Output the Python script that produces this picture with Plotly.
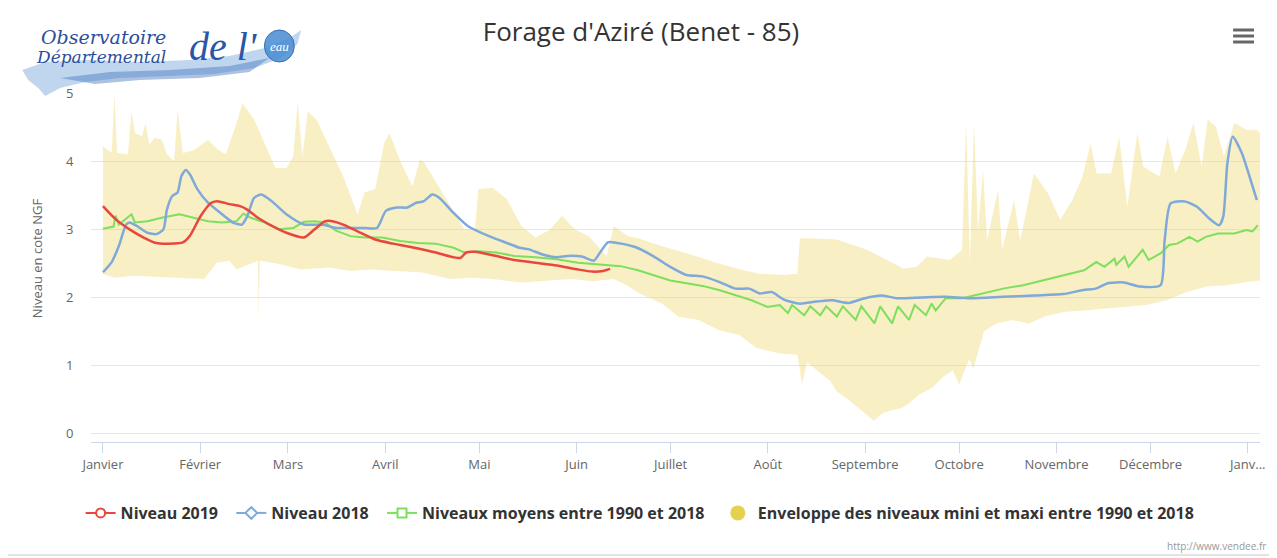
import plotly.graph_objects as go

# ---------------- data (x = day of year, 0 = 1 Jan) ----------------
month_labels = ["Janvier", "Février", "Mars", "Avril", "Mai", "Juin", "Juillet",
                "Août", "Septembre", "Octobre", "Novembre", "Décembre", "Janv..."]
month_days = [0, 31, 59, 90, 120, 151, 181, 212, 243, 273, 304, 334, 365]

red_days = [0, 4, 8.5, 13, 17, 21, 25.5, 27.8, 31.2, 34.6, 36.9, 40.3, 43.7, 46, 49.4,
            53.9, 58.5, 64.1, 67.5, 70.9, 73.2, 76.6, 81.2, 86.8, 92.5, 99.3, 106.1,
            111.8, 114, 115.8, 118.6, 124.3, 131.1, 137.9, 144.7, 151.5, 156, 159.5, 161.7]
red_vals = [3.34, 3.15, 3.0, 2.88, 2.80, 2.79, 2.81, 2.91, 3.2, 3.39, 3.41, 3.37, 3.34, 3.29, 3.17,
            3.05, 2.95, 2.88, 3.0, 3.12, 3.12, 3.07, 2.97, 2.85, 2.79, 2.73, 2.66,
            2.59, 2.58, 2.66, 2.67, 2.62, 2.55, 2.51, 2.47, 2.41, 2.38, 2.39, 2.42]

blue_days = [0, 2.8, 5.1, 7.4, 8.5, 10.8, 14.2, 17, 19.3, 20.4, 22.1, 23.8, 25, 26.4, 27.8,
             30.1, 33.5, 38, 41.4, 44.3, 46, 48.2, 50.5, 53.9, 58.5, 64.1, 69.8, 74.3, 78.9,
             83.4, 87.4, 90.2, 93.6, 97, 99.9, 102.2, 105, 107.3, 111.8, 116.3, 123.1, 128.8,
             132.8, 135.6, 140.2, 144.7, 148.1, 152.7, 156.5, 158.5, 161, 164, 169.7,
             175.7, 180.9, 186.1, 191.2, 196.4, 201.6, 206.1, 209.3, 213.2, 217.1, 222.2,
             227.4, 232.5, 237.7, 242.9, 248.1, 253.2, 261, 268.7, 276.5, 286.8, 297.1,
             306.2, 312.6, 316.5, 320.4, 325.5, 330.7, 337.2, 338.5, 340.4, 344.9, 348.8,
             352.7, 355.9, 357.2, 358.5, 360.2, 363.1, 365.6, 367.9]
blue_vals = [2.37, 2.52, 2.76, 3.07, 3.10, 3.05, 2.95, 2.93, 3.0, 3.29, 3.49, 3.54, 3.78, 3.87, 3.80,
             3.59, 3.39, 3.22, 3.10, 3.07, 3.19, 3.46, 3.51, 3.41, 3.22, 3.07, 3.07, 3.02, 3.02,
             3.02, 3.02, 3.27, 3.32, 3.32, 3.39, 3.41, 3.51, 3.46, 3.24, 3.05, 2.90, 2.80,
             2.73, 2.71, 2.63, 2.59, 2.61, 2.60, 2.54, 2.66, 2.81, 2.80, 2.74,
             2.60, 2.45, 2.33, 2.31, 2.23, 2.13, 2.13, 2.06, 2.08, 1.97, 1.91,
             1.94, 1.96, 1.92, 1.99, 2.03, 1.99, 2.0, 2.01, 1.99, 2.01, 2.03,
             2.05, 2.11, 2.13, 2.21, 2.22, 2.16, 2.18, 2.84, 3.38, 3.41, 3.33,
             3.16, 3.06, 3.19, 3.97, 4.36, 4.12, 3.77, 3.43]

green_days = [0, 3.4, 4, 5.1, 9.1, 10.2, 14.2, 18.7, 24.4, 28.9, 33.5, 38, 42.6, 44.8, 47.1,
              51.6, 56.2, 60.7, 64.1, 67.5, 70.9, 74.3, 78.9, 83.4, 89.1, 94.8, 100.4, 106.1,
              111.8, 115.2, 119.7, 125.4, 131.1, 137.9, 144.7, 151.5, 158.3, 165.1, 170.6,
              175.7, 180.9, 186.1, 191.2, 196.4, 201.6, 206.8, 211.9, 215.8, 218.4, 219.7,
              223.6, 225.5, 228.7, 230.6, 234, 235.9, 240, 241.8, 246, 247.8, 251.6, 253.5,
              257, 258.8, 262.4, 264.2, 265.5, 268.7, 274, 280.5, 287, 293.4, 299.9, 306.4,
              312.8, 316.7, 319.3, 322.5, 323.1, 325.7, 327, 331.5, 333.4, 337.3, 339.9,
              342.5, 346.4, 349, 351.6, 355.5, 360.7, 364.6, 366.5, 368.2]
green_vals = [3.01, 3.04, 3.2, 3.07, 3.22, 3.1, 3.12, 3.17, 3.22, 3.17, 3.12, 3.10, 3.12, 3.23, 3.17,
              3.10, 3.0, 3.02, 3.11, 3.12, 3.10, 2.98, 2.90, 2.88, 2.88, 2.83, 2.80, 2.79,
              2.73, 2.66, 2.68, 2.66, 2.61, 2.59, 2.56, 2.51, 2.49, 2.46, 2.40,
              2.33, 2.25, 2.21, 2.17, 2.11, 2.03, 1.96, 1.86, 1.89, 1.77, 1.89,
              1.74, 1.87, 1.74, 1.87, 1.72, 1.87, 1.67, 1.87, 1.62, 1.87, 1.62, 1.87,
              1.67, 1.89, 1.74, 1.91, 1.81, 1.99, 1.99, 2.06, 2.13, 2.18, 2.25, 2.33,
              2.40, 2.52, 2.45, 2.57, 2.48, 2.60, 2.45, 2.70, 2.55, 2.65, 2.77,
              2.79, 2.89, 2.82, 2.89, 2.94, 2.94, 2.99, 2.97, 3.06]

env_up_days = [0, 2.8, 3.7, 4.5, 8, 9.1, 10.2, 12.5, 13.6, 14.8, 16.5, 18.7, 20.4, 22.7, 23.8,
               25.5, 28.9, 33.5, 36.9, 39.2, 42.6, 44.5, 48.2, 51.6, 55, 58.5, 60.7, 62.1,
               63.6, 65.3, 68.1, 72.1, 76.6, 81.2, 83.4, 86.8, 89.7, 91.4, 94.8, 98.7, 101,
               102.2, 105, 109.5, 115.2, 118.6, 119.7, 124.3, 128.8, 133.4, 137.9, 142.4,
               146.4, 150.4, 154.9, 160.6, 162.9, 167.4, 170.6, 178.3, 186.1, 196.4, 204.2,
               209.3, 217.1, 221.4, 222.2, 225.3, 234, 243.6, 250, 255.4, 259.5, 262.7,
               270, 273.9, 275.2, 276.4, 277.7, 279, 280.6, 281.9, 285.4, 286.7, 290.5,
               292.4, 293.6, 296.8, 301.3, 305.2, 309.1, 312.3, 314.9, 316.8, 321.4, 324,
               326.6, 329.8, 331.7, 336.8, 339.4, 342, 345.1, 347.7, 350.3, 352.2, 354.8,
               357.4, 360.7, 364.6, 367.8, 368.9]
env_up_vals = [4.22, 4.12, 5.0, 4.12, 4.1, 4.73, 4.41, 4.37, 4.56, 4.24, 4.34, 4.32, 4.10, 4.0, 4.75,
               4.12, 4.16, 4.31, 4.16, 4.1, 4.56, 4.85, 4.61, 4.26, 3.9, 3.9, 4.07, 4.88,
               4.07, 4.73, 4.61, 4.22, 3.78, 3.22, 3.54, 3.59, 4.27, 4.41, 4.0, 3.63, 4.02,
               4.0, 3.78, 3.44, 3.0, 3.0, 3.59, 3.61, 3.44, 3.05, 2.88, 2.99,
               3.2, 3.0, 2.9, 2.61, 3.05, 2.9, 2.87, 2.75, 2.65, 2.5, 2.4,
               2.35, 2.33, 2.35, 2.87, 2.87, 2.85, 2.7, 2.55, 2.42, 2.45, 2.6,
               2.55, 2.7, 4.56, 2.5, 4.56, 2.99, 3.87, 2.84, 3.58, 2.7, 3.43,
               2.84, 3.09, 3.82, 3.53, 3.14, 3.43, 3.77, 4.26, 3.82, 3.82, 4.36,
               3.33, 4.41, 3.92, 3.77, 4.36, 3.82, 4.17, 4.56, 3.92, 4.61, 4.51,
               4.07, 4.56, 4.46, 4.46, 4.41]

env_low_days = [0, 4, 9.6, 21, 32.3, 36.3, 40.3, 42.6, 49.4, 49.7, 50.0, 56.2, 63, 72.1, 78.9,
                85.7, 92.5, 101.6, 110.7, 117.5, 124.3, 133.4, 141.3, 149.3, 156.1, 162.9,
                167.4, 170.6, 178.3, 183.4, 189.9, 196.4, 202.9, 208.3, 215.8, 221.4, 222.9,
                224.5, 231.8, 234, 238, 241.8, 245.8, 248.5, 251, 254.7, 257, 260, 262.2, 264.5,
                268.2, 271, 273, 276.2, 277.5, 280.9, 284.8, 290, 295.2, 300.3, 306.8, 313.2,
                319.7, 326.2, 332.6, 339.1, 345.6, 352, 358.5, 365, 368.9]
env_low_vals = [2.34, 2.29, 2.32, 2.29, 2.27, 2.51, 2.54, 2.41, 2.54, 1.68, 2.54, 2.49, 2.41, 2.44, 2.39,
                2.41, 2.39, 2.37, 2.27, 2.29, 2.27, 2.22, 2.24, 2.27, 2.24, 2.27,
                2.17, 2.07, 1.91, 1.72, 1.67, 1.52, 1.45, 1.26, 1.18, 1.16, 0.73,
                1.05, 0.78, 0.62, 0.49, 0.35, 0.19, 0.30, 0.34, 0.38, 0.45, 0.57, 0.62, 0.68,
                0.85, 0.93, 0.72, 1.1, 0.95, 1.5, 1.62, 1.67, 1.62, 1.72, 1.79, 1.81,
                1.84, 1.86, 1.89, 1.96, 2.08, 2.16, 2.18, 2.23, 2.25]

y_ticks = [0, 1, 2, 3, 4, 5]

# ---------------- styling ----------------
RED = "#e8473d"
BLUE = "#7ea9d9"
GREEN = "#7ddf5c"
FILL = "rgba(238,214,110,0.40)"
ENV_DOT = "#e6d050"

OX, OY = 8, 8               # page offset of the figure
W, H = 1277 - OX, 558 - OY  # figure size
L, R, T, B = 91, 1264, 93, 442   # plot area in page pixels


def px(x):
    return (x - L) / (R - L)


def py(y):
    return (B - y) / (B - T)


fig = go.Figure()

fig.add_trace(go.Scatter(
    x=env_up_days + env_low_days[::-1],
    y=env_up_vals + env_low_vals[::-1],
    fill="toself", fillcolor=FILL, mode="lines", line=dict(width=0),
    showlegend=False, hoverinfo="skip"))

fig.add_trace(go.Scatter(x=green_days, y=green_vals, mode="lines",
                         line=dict(color=GREEN, width=2), showlegend=False))
fig.add_trace(go.Scatter(x=blue_days, y=blue_vals, mode="lines",
                         line=dict(color=BLUE, width=2.5, shape="spline", smoothing=0.6),
                         showlegend=False))
fig.add_trace(go.Scatter(x=red_days, y=red_vals, mode="lines",
                         line=dict(color=RED, width=2.5, shape="spline", smoothing=0.6),
                         showlegend=False))

PAD = "\u00a0\u00a0"
fig.add_trace(go.Scatter(x=[None], y=[None], mode="lines+markers", name="Niveau 2019" + PAD,
                         line=dict(color=RED, width=2),
                         marker=dict(symbol="circle", size=9, color="white",
                                     line=dict(color=RED, width=2))))
fig.add_trace(go.Scatter(x=[None], y=[None], mode="lines+markers", name="Niveau 2018" + PAD,
                         line=dict(color=BLUE, width=2),
                         marker=dict(symbol="diamond", size=9, color="white",
                                     line=dict(color=BLUE, width=2))))
fig.add_trace(go.Scatter(x=[None], y=[None], mode="lines+markers",
                         name="Niveaux moyens entre 1990 et 2018" + PAD,
                         line=dict(color=GREEN, width=2),
                         marker=dict(symbol="square", size=9, color="white",
                                     line=dict(color=GREEN, width=2))))
fig.add_trace(go.Scatter(x=[None], y=[None], mode="markers",
                         name="Enveloppe des niveaux mini et maxi entre 1990 et 2018",
                         marker=dict(symbol="circle", size=15, color=ENV_DOT)))

# ---------------- logo / decorations ----------------
def path_from(points):
    s = "M %f,%f" % (px(points[0][0]), py(points[0][1]))
    for (x, y) in points[1:]:
        s += " L %f,%f" % (px(x), py(y))
    return s + " Z"


swoosh = [(22, 70), (45, 62), (90, 60), (140, 62), (190, 60), (230, 56), (265, 48), (290, 38),
          (302, 30), (298, 44), (282, 58), (255, 68), (215, 74), (170, 76), (120, 78), (85, 82),
          (60, 88), (45, 96), (38, 88), (28, 80)]
swoosh2 = [(60, 78), (110, 72), (170, 70), (230, 66), (270, 58), (250, 72), (200, 78),
           (140, 80), (95, 84)]

shapes = [
    dict(type="rect", xref="paper", yref="paper", x0=px(4.5), x1=px(1275), y0=py(555), y1=py(4.5),
         line=dict(color="#c8c8c8", width=1), fillcolor="rgba(0,0,0,0)", layer="below"),
    dict(type="path", xref="paper", yref="paper", path=path_from(swoosh),
         fillcolor="rgba(140,180,225,0.55)", line=dict(width=0), layer="above"),
    dict(type="path", xref="paper", yref="paper", path=path_from(swoosh2),
         fillcolor="rgba(70,120,190,0.45)", line=dict(width=0), layer="above"),
    dict(type="circle", xref="paper", yref="paper", x0=px(265), x1=px(295), y0=py(62), y1=py(30),
         fillcolor="rgba(70,140,210,0.85)", line=dict(color="#3a6fb0", width=1), layer="above"),
]
for yy in (30, 36, 42):
    shapes.append(dict(type="rect", xref="paper", yref="paper", x0=px(1237), x1=px(1258),
                       y0=py(yy + 1.5), y1=py(yy - 1.5), fillcolor="#666666",
                       line=dict(width=0), layer="above"))

annotations = [
    dict(text="Observatoire", x=px(104), y=py(37), xref="paper", yref="paper",
         showarrow=False, xanchor="center", yanchor="middle",
         font=dict(family="DejaVu Serif", size=19, color="#2a4d9e", style="italic")),
    dict(text="Départemental", x=px(101), y=py(57), xref="paper", yref="paper",
         showarrow=False, xanchor="center", yanchor="middle",
         font=dict(family="DejaVu Serif", size=17, color="#2a4d9e", style="italic")),
    dict(text="de l'", x=px(224), y=py(46), xref="paper", yref="paper",
         showarrow=False, xanchor="center", yanchor="middle",
         font=dict(family="Liberation Serif", size=40, color="#2a56a8", style="italic")),
    dict(text="eau", x=px(280), y=py(46), xref="paper", yref="paper",
         showarrow=False, xanchor="center", yanchor="middle",
         font=dict(family="Liberation Serif", size=13, color="white", style="italic")),
    dict(text="Niveau en cote NGF", x=px(37), y=py(258), xref="paper", yref="paper",
         showarrow=False, textangle=-90, xanchor="center", yanchor="middle",
         font=dict(family="Open Sans", size=13, color="#666666")),
    dict(text="http://www.vendee.fr", x=px(1272), y=py(546), xref="paper", yref="paper",
         showarrow=False, xanchor="right", yanchor="middle",
         font=dict(family="Open Sans", size=10, color="#999999")),
]

fig.update_layout(
    width=W, height=H, autosize=False,
    paper_bgcolor="white", plot_bgcolor="white",
    margin=dict(l=L - OX, r=W - (R - OX), t=T - OY, b=H - (B - OY), pad=0),
    title=dict(text="Forage d'Aziré (Benet - 85)", x=(641 - OX) / W, xanchor="center",
               xref="container", yref="container", y=1 - (32 - OY) / H, yanchor="middle",
               font=dict(family="Open Sans", size=26, color="#333333")),
    xaxis=dict(range=[-3.8, 368.9], tickvals=month_days, ticktext=month_labels,
               showgrid=False, zeroline=False, showline=True, linecolor="#ccd6eb",
               linewidth=1, ticks="outside", ticklen=10, tickcolor="#ccd6eb",
               tickfont=dict(family="Open Sans", size=13, color="#666666")),
    yaxis=dict(range=[-0.12, 5.0], tickvals=y_ticks, showgrid=True, gridcolor="#e6e6e6",
               zeroline=False, showline=False, ticks="outside", ticklen=14,
               tickcolor="rgba(0,0,0,0)",
               tickfont=dict(family="Open Sans", size=13, color="#666666")),
    legend=dict(orientation="h", x=px(642), xanchor="center", y=py(513), yanchor="middle",
                font=dict(family="Open Sans", size=16, color="#333333", weight="bold"),
                itemwidth=30, tracegroupgap=0, bgcolor="rgba(0,0,0,0)"),
    shapes=shapes,
    annotations=annotations,
)

fig.write_html("out.html")
